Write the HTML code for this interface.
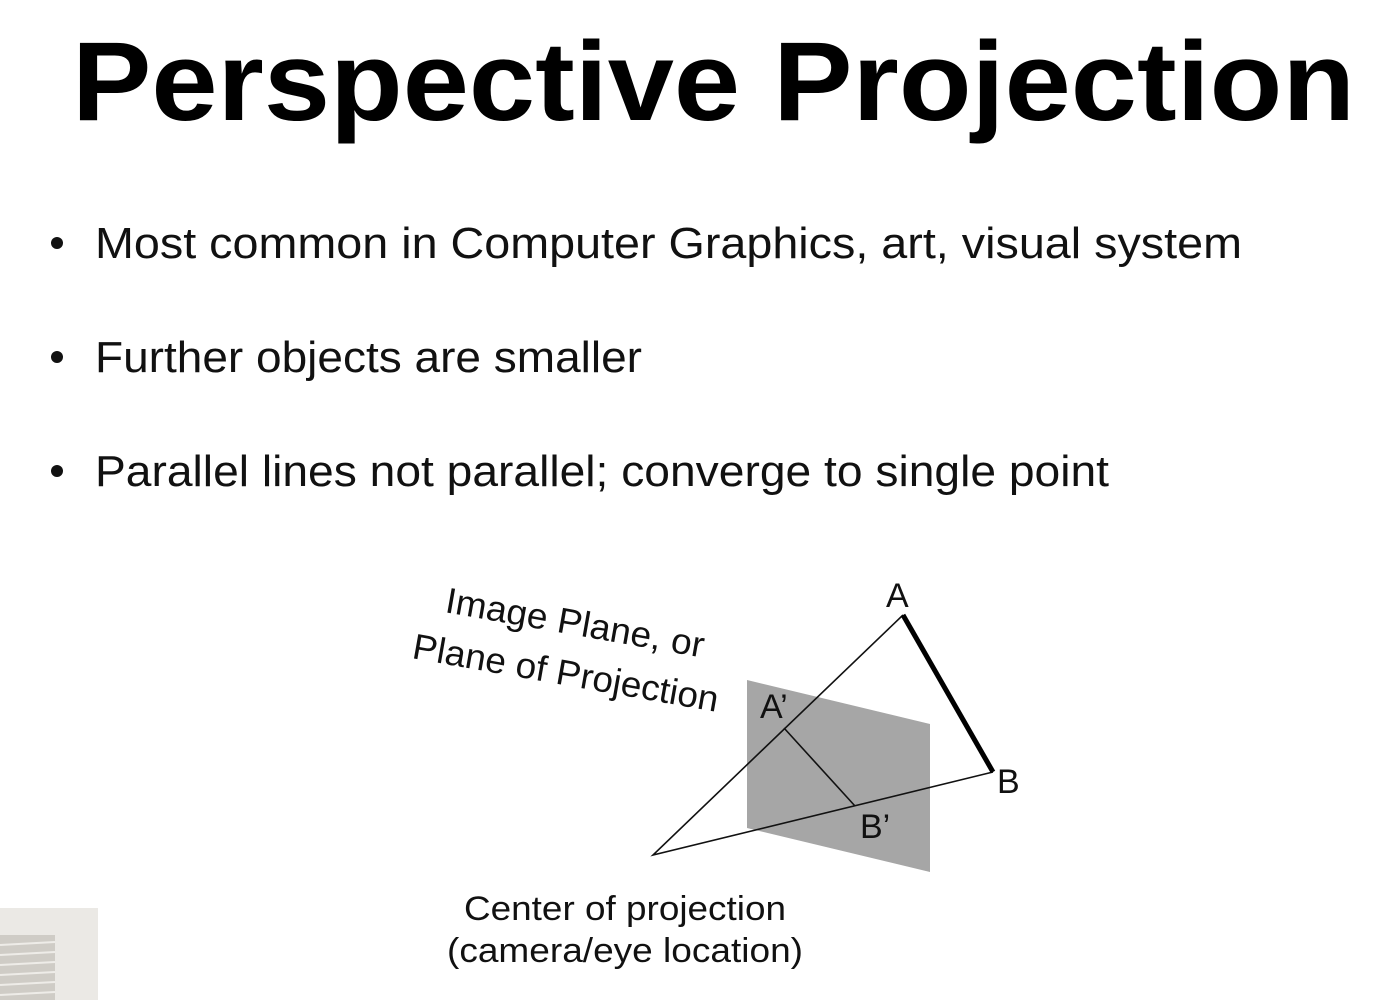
<!DOCTYPE html>
<html><head><meta charset="utf-8"><style>
html,body{margin:0;padding:0;background:#fff;}
svg{display:block;font-family:"Liberation Sans",sans-serif;}
</style></head><body>
<svg width="1384" height="1000" viewBox="0 0 1384 1000" xmlns="http://www.w3.org/2000/svg">
<rect width="1384" height="1000" fill="#fff"/>
<text x="72" y="120" font-size="112" font-weight="bold" fill="#000" textLength="1283" lengthAdjust="spacingAndGlyphs">Perspective Projection</text>
<g font-size="44" fill="#111">
<circle cx="57" cy="243" r="6" fill="#111"/>
<text x="95" y="258" textLength="1147" lengthAdjust="spacingAndGlyphs">Most common in Computer Graphics, art, visual system</text>
<circle cx="57" cy="357" r="6" fill="#111"/>
<text x="95" y="372" textLength="547" lengthAdjust="spacingAndGlyphs">Further objects are smaller</text>
<circle cx="57" cy="471" r="6" fill="#111"/>
<text x="95" y="486" textLength="1014" lengthAdjust="spacingAndGlyphs">Parallel lines not parallel; converge to single point</text>
</g>
<polygon points="747,680 930,724 930,872 747,828" fill="#a6a6a6"/>
<g stroke="#111" stroke-width="1.6" fill="none">
<polyline points="903,615 653,855 993,772"/>
<line x1="784" y1="728" x2="855" y2="806"/>
</g>
<line x1="903" y1="615" x2="993" y2="772" stroke="#000" stroke-width="5"/>
<g font-size="34" fill="#111">
<text x="886" y="607">A</text>
<text x="760" y="718">A’</text>
<text x="997" y="793">B</text>
<text x="860" y="838">B’</text>
<text font-size="36" transform="translate(444,612) rotate(10)" textLength="262" lengthAdjust="spacingAndGlyphs">Image Plane, or</text>
<text font-size="36" transform="translate(411,658) rotate(10)" textLength="310" lengthAdjust="spacingAndGlyphs">Plane of Projection</text>
<text x="625" y="920" text-anchor="middle" textLength="322" lengthAdjust="spacingAndGlyphs">Center of projection</text>
<text x="625" y="962" text-anchor="middle" textLength="356" lengthAdjust="spacingAndGlyphs">(camera/eye location)</text>
</g>
<rect x="0" y="908" width="98" height="92" fill="#ebe9e5"/>
<rect x="0" y="935" width="55" height="65" fill="#cfccc6"/>
<g stroke="#eeece8" stroke-width="2">
<line x1="0" y1="945" x2="55" y2="942"/><line x1="0" y1="955" x2="55" y2="952"/>
<line x1="0" y1="965" x2="55" y2="962"/><line x1="0" y1="975" x2="55" y2="972"/>
<line x1="0" y1="985" x2="55" y2="982"/><line x1="0" y1="995" x2="55" y2="992"/>
</g>
</svg>
</body></html>
